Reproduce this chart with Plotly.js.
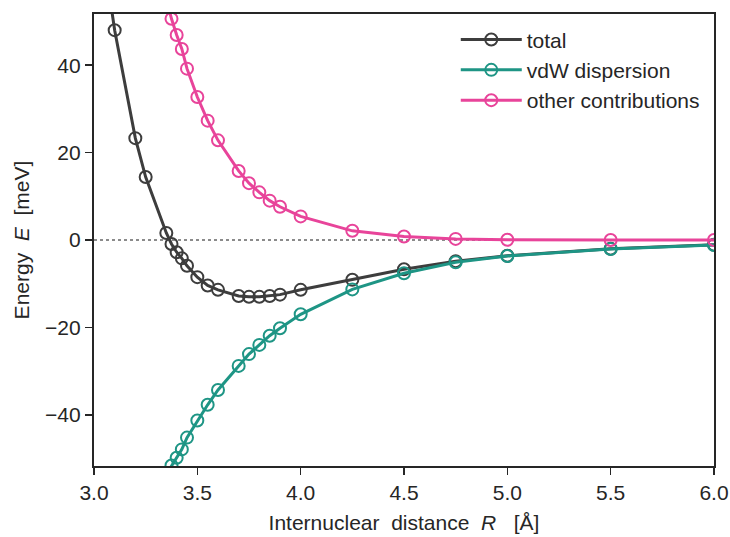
<!DOCTYPE html>
<html>
<head>
<meta charset="utf-8">
<script src="https://cdn.plot.ly/plotly-3.0.1.min.js"></script>
<style>html,body{margin:0;padding:0;background:#fff;}#chart{width:730px;height:537px;}</style>
</head>
<body>
<div id="chart"></div>
<script>
// Internuclear distance R [Å]
const xTotal = [3.0, 3.1, 3.2, 3.25, 3.35, 3.375, 3.4, 3.425, 3.45, 3.5, 3.55, 3.6, 3.7, 3.75, 3.8, 3.85, 3.9, 4.0, 4.25, 4.5, 4.75, 5.0, 5.5, 6.0];
const total  = [80, 48.0, 23.3, 14.4, 1.6, -0.9, -2.8, -4.2, -5.9, -8.5, -10.4, -11.4, -12.8, -13.0, -13.0, -12.8, -12.5, -11.4, -9.1, -6.7, -4.85, -3.6, -2.0, -1.1];

const xParts = [3.35, 3.375, 3.4, 3.425, 3.45, 3.5, 3.55, 3.6, 3.7, 3.75, 3.8, 3.85, 3.9, 4.0, 4.25, 4.5, 4.75, 5.0, 5.5, 6.0];
const vdw    = [-53.6, -51.6, -49.8, -47.9, -45.2, -41.3, -37.7, -34.3, -28.8, -26.1, -24.0, -21.9, -20.2, -17.0, -11.3, -7.6, -5.1, -3.65, -2.05, -1.15];
const other  = [55.2, 50.6, 46.9, 43.7, 39.2, 32.7, 27.3, 22.8, 15.8, 13.0, 10.9, 9.0, 7.6, 5.4, 2.1, 0.8, 0.25, 0.05, 0.0, 0.0];

const seriesNames = ['total', 'vdW dispersion', 'other contributions'];
const xTicks = [3.0, 3.5, 4.0, 4.5, 5.0, 5.5, 6.0];
const xTickText = ['3.0', '3.5', '4.0', '4.5', '5.0', '5.5', '6.0'];
const yTicks = [-40, -20, 0, 20, 40];

const cTotal = '#3d3d3d', cVdw = '#1e9585', cOther = '#e8449a';

function trace(x, y, name, color) {
  return {
    x: x, y: y, name: name, type: 'scatter', mode: 'lines+markers',
    line: {color: color, width: 3},
    marker: {symbol: 'circle-open', size: 12, color: color, line: {color: color, width: 2}},
    cliponaxis: true
  };
}

const data = [
  trace(xTotal, total, seriesNames[0], cTotal),
  trace(xParts, vdw, seriesNames[1], cVdw),
  trace(xParts, other, seriesNames[2], cOther)
];

const FF = 'Liberation Sans, Arial, sans-serif';
const axisFont = {family: FF, size: 21, color: '#262626'};
const S = '\u00a0';

const layout = {
  width: 730, height: 537,
  margin: {l: 94, r: 16, t: 14, b: 71},
  paper_bgcolor: '#fff', plot_bgcolor: '#fff',
  font: axisFont,
  showlegend: true,
  legend: {
    x: 0.5835, y: 0.988, xanchor: 'left', yanchor: 'top',
    bgcolor: 'rgba(255,255,255,0)', borderwidth: 0,
    font: {family: FF, size: 21, color: '#262626'},
    itemwidth: 61
  },
  xaxis: {
    range: [3.0, 6.0], tickvals: xTicks, ticktext: xTickText,
    ticks: 'outside', ticklen: 7, tickwidth: 1.5, tickcolor: '#262626',
    showgrid: false, zeroline: false,
    showline: true, linecolor: '#262626', linewidth: 2.2, mirror: true,
    tickfont: axisFont,
    title: {text: 'Internuclear' + S + S + 'distance' + S + S + '<i>R</i>' + S + S + S + '[Å]', font: axisFont, standoff: 12}
  },
  yaxis: {
    range: [-51.7, 51.7], tickvals: yTicks,
    ticks: 'outside', ticklen: 7, tickwidth: 1.5, tickcolor: '#262626',
    showgrid: false, zeroline: false,
    showline: true, linecolor: '#262626', linewidth: 2.2, mirror: true,
    tickfont: axisFont,
    title: {text: 'Energy' + S + S + '<i>E</i>' + S + S + '[meV]', font: axisFont, standoff: 10}
  },
  shapes: [{
    type: 'line', xref: 'paper', x0: 0, x1: 1, yref: 'y', y0: 0, y1: 0,
    line: {color: '#666666', width: 1.6, dash: 'dot'}, layer: 'below'
  }]
};

Plotly.newPlot('chart', data, layout, {displayModeBar: false, staticPlot: true});
</script>
</body>
</html>
